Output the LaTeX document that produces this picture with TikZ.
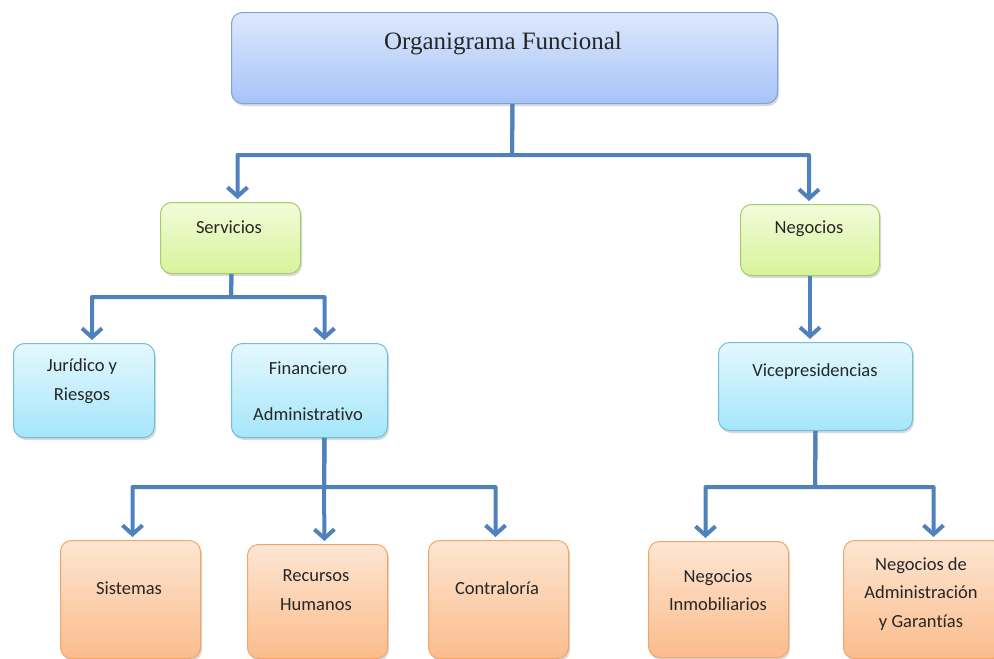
\documentclass[tikz,border=0pt]{standalone}
\usepackage{fontspec}
\setmainfont[Ligatures=NoCommon]{Carlito}
\newfontfamily\titlefont{Liberation Serif}
\usetikzlibrary{arrows.meta,shadows}
\definecolor{conn}{HTML}{4F81BD}
\definecolor{bluetop}{HTML}{DDE8FC}
\definecolor{bluebot}{HTML}{A7C4F8}
\definecolor{blueln}{HTML}{7EA2DA}
\definecolor{greentop}{HTML}{F3FBDA}
\definecolor{greenbot}{HTML}{D6F49A}
\definecolor{greenln}{HTML}{A9CB6E}
\definecolor{cyantop}{HTML}{E4F8FE}
\definecolor{cyanbot}{HTML}{A5E6FA}
\definecolor{cyanln}{HTML}{6EC0DA}
\definecolor{orangetop}{HTML}{FDE6D3}
\definecolor{orangebot}{HTML}{FBBC8B}
\definecolor{orangeln}{HTML}{F4A566}
\tikzset{
  box/.style={rounded corners=11pt, draw, line width=1pt, anchor=north west, inner sep=0pt,
    drop shadow={shadow xshift=1.5pt, shadow yshift=-2.5pt, opacity=0.25, fill=black!60}},
  bluebox/.style={box, draw=blueln, top color=bluetop, bottom color=bluebot},
  greenbox/.style={box, draw=greenln, top color=greentop, bottom color=greenbot},
  cyanbox/.style={box, draw=cyanln, top color=cyantop, bottom color=cyanbot},
  orangebox/.style={box, draw=orangeln, top color=orangetop, bottom color=orangebot},
  txt/.style={align=center, inner sep=0pt, text=black!85, font=\fontsize{18.5}{28.5}\selectfont},
  link/.style={draw=conn, line width=4pt, line join=round},
  arr/.style={link, -{Straight Barb[length=9pt, width=20pt, line width=4pt]}, shorten >=3pt}
}
\begin{document}
\begin{tikzpicture}[x=1pt, y=-1pt]
\useasboundingbox (0,0) rectangle (994,659);
% boxes
\node[bluebox, minimum width=546pt, minimum height=91pt] (top) at (231,12) {};
\node[greenbox, minimum width=140pt, minimum height=71pt] (serv) at (160,202) {};
\node[greenbox, minimum width=139pt, minimum height=71pt] (neg) at (740,204) {};
\node[cyanbox, minimum width=141pt, minimum height=94pt] (jur) at (13,343) {};
\node[cyanbox, minimum width=156pt, minimum height=94pt] (fin) at (231,343) {};
\node[cyanbox, minimum width=194pt, minimum height=88pt] (vice) at (718,342) {};
\node[orangebox, minimum width=140pt, minimum height=118pt] (sis) at (60,540) {};
\node[orangebox, minimum width=140pt, minimum height=114pt] (rrhh) at (247,544) {};
\node[orangebox, minimum width=140pt, minimum height=118pt] (con) at (428,540) {};
\node[orangebox, minimum width=140pt, minimum height=116pt] (ninm) at (648,541) {};
\node[orangebox, minimum width=160pt, minimum height=118pt] (nadm) at (843,540) {};
% texts
\node[txt, font=\titlefont\fontsize{25}{28}\selectfont] (ttop) at (503,44) {Organigrama Funcional};
\node[txt] (tserv) at (229,227) {Servicios};
\node[txt] (tneg) at (809,229) {Negocios};
\node[txt] (tjur) at (82,381) {Jurídico y\\Riesgos};
\node[txt] (tfin1) at (308,368) {Financiero};
\node[txt] (tfin2) at (308,414) {Administrativo};
\node[txt] (tvice) at (815,372) {Vicepresidencias};
\node[txt] (tsis) at (129,588) {Sistemas};
\node[txt] (trrhh) at (316,590) {Recursos\\Humanos};
\node[txt] (tcon) at (497,588) {Contraloría};
\node[txt] (tninm) at (718,590) {Negocios\\Inmobiliarios};
\node[txt] (tnadm) at (921,594) {Negocios de\\Administración\\y Garantías};
% bus coordinates
\coordinate (b1) at (512,155);
\coordinate (b2) at (231,297);
\coordinate (b3) at (324,487);
\coordinate (b4) at (815,487);
% connectors
\draw[arr] ([xshift=8pt]top.south) -- (b1) -| ([xshift=7pt]serv.north);
\draw[arr] ([xshift=8pt]top.south) -- (b1) -| ([xshift=-1pt]neg.north);
\draw[arr] ([xshift=1pt]serv.south) -- (b2) -| ([xshift=8pt]jur.north);
\draw[arr] ([xshift=1pt]serv.south) -- (b2) -| ([xshift=15pt]fin.north);
\draw[arr] (neg.south) -- ([xshift=-5.5pt]vice.north);
\draw[arr] ([xshift=15pt]fin.south) -- (b3) -| ([xshift=2pt]sis.north);
\draw[arr] ([xshift=15pt]fin.south) -- (b3) -- ([xshift=7pt]rrhh.north);
\draw[arr] ([xshift=15pt]fin.south) -- (b3) -| ([xshift=-3pt]con.north);
\draw[arr] (vice.south) -- (b4) -| ([xshift=-13pt]ninm.north);
\draw[arr] (vice.south) -- (b4) -| ([xshift=10pt]nadm.north);
\end{tikzpicture}
\end{document}
